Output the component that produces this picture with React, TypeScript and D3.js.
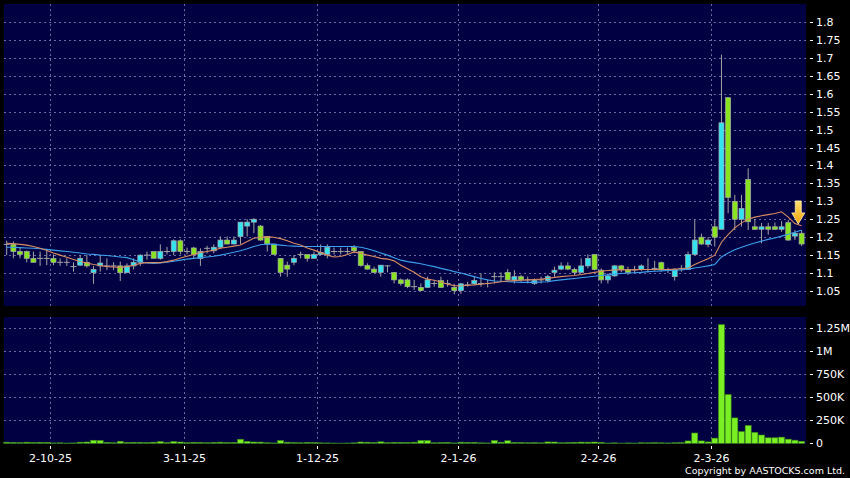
import { useEffect, useRef } from 'react';
import * as d3 from 'd3';

const W = 850;
const H = 478;

// daily candles, oldest first
const open = [
  1.18, 1.18, 1.16, 1.16, 1.141, 1.141, 1.141, 1.141, 1.13, 1.13,
  1.118, 1.122, 1.13, 1.101, 1.12, 1.12, 1.12, 1.12, 1.101, 1.12,
  1.13, 1.15, 1.16, 1.141, 1.16, 1.16, 1.19, 1.16, 1.17, 1.141,
  1.169, 1.162, 1.172, 1.192, 1.181, 1.202, 1.231, 1.242, 1.231, 1.202,
  1.181, 1.141, 1.122, 1.13, 1.152, 1.152, 1.141, 1.152, 1.152, 1.16,
  1.16, 1.16, 1.171, 1.16, 1.121, 1.111, 1.102, 1.12, 1.102, 1.081,
  1.081, 1.062, 1.06, 1.06, 1.071, 1.079, 1.071, 1.06, 1.051, 1.067,
  1.07, 1.071, 1.071, 1.09, 1.09, 1.102, 1.081, 1.09, 1.081, 1.071,
  1.081, 1.079, 1.102, 1.111, 1.12, 1.11, 1.102, 1.12, 1.152, 1.108,
  1.081, 1.092, 1.12, 1.11, 1.109, 1.11, 1.11, 1.113, 1.129, 1.109,
  1.09, 1.113, 1.11, 1.152, 1.2, 1.18, 1.229, 1.222, 1.589, 1.3,
  1.25, 1.361, 1.229, 1.222, 1.229, 1.229, 1.222, 1.2405, 1.203, 1.211,
];
const high = [
  1.19, 1.188, 1.171, 1.163, 1.16, 1.16, 1.165, 1.152, 1.141, 1.141,
  1.13, 1.15, 1.15, 1.12, 1.15, 1.141, 1.13, 1.132, 1.127, 1.141,
  1.152, 1.16, 1.16, 1.18, 1.173, 1.194, 1.194, 1.171, 1.173, 1.169,
  1.176, 1.18, 1.202, 1.202, 1.202, 1.242, 1.25, 1.253, 1.234, 1.202,
  1.181, 1.141, 1.132, 1.15, 1.16, 1.152, 1.16, 1.18, 1.18, 1.171,
  1.171, 1.171, 1.178, 1.16, 1.127, 1.118, 1.122, 1.122, 1.102, 1.085,
  1.085, 1.081, 1.071, 1.09, 1.081, 1.09, 1.081, 1.07, 1.072, 1.076,
  1.09, 1.099, 1.081, 1.102, 1.102, 1.111, 1.108, 1.095, 1.09, 1.085,
  1.09, 1.095, 1.118, 1.13, 1.13, 1.115, 1.141, 1.152, 1.152, 1.113,
  1.099, 1.122, 1.122, 1.118, 1.12, 1.124, 1.141, 1.134, 1.132, 1.115,
  1.113, 1.122, 1.16, 1.248, 1.21, 1.2, 1.248, 1.709, 1.589, 1.318,
  1.318, 1.392, 1.25, 1.24, 1.24, 1.241, 1.245, 1.248, 1.22, 1.22,
];
const low = [
  1.15, 1.141, 1.141, 1.13, 1.13, 1.12, 1.122, 1.122, 1.12, 1.12,
  1.104, 1.12, 1.115, 1.07, 1.104, 1.108, 1.108, 1.078, 1.101, 1.11,
  1.12, 1.137, 1.141, 1.137, 1.152, 1.15, 1.152, 1.152, 1.141, 1.12,
  1.155, 1.155, 1.168, 1.18, 1.18, 1.18, 1.202, 1.211, 1.19, 1.16,
  1.152, 1.09, 1.09, 1.122, 1.141, 1.132, 1.141, 1.15, 1.141, 1.152,
  1.152, 1.152, 1.155, 1.118, 1.11, 1.1, 1.09, 1.102, 1.071, 1.065,
  1.058, 1.053, 1.05, 1.06, 1.062, 1.06, 1.062, 1.041, 1.042, 1.062,
  1.067, 1.062, 1.06, 1.071, 1.076, 1.079, 1.071, 1.076, 1.071, 1.067,
  1.071, 1.074, 1.09, 1.108, 1.108, 1.095, 1.102, 1.113, 1.108, 1.071,
  1.071, 1.09, 1.102, 1.095, 1.1, 1.105, 1.102, 1.106, 1.104, 1.1,
  1.079, 1.104, 1.109, 1.15, 1.178, 1.172, 1.174, 1.222, 1.267, 1.22,
  1.23, 1.22, 1.22, 1.183, 1.207, 1.22, 1.215, 1.19, 1.192, 1.175,
];
const close = [
  1.18, 1.16, 1.152, 1.141, 1.13, 1.141, 1.141, 1.13, 1.13, 1.13,
  1.118, 1.141, 1.12, 1.11, 1.128, 1.12, 1.12, 1.101, 1.12, 1.13,
  1.15, 1.15, 1.141, 1.16, 1.16, 1.19, 1.16, 1.16, 1.152, 1.16,
  1.169, 1.172, 1.192, 1.181, 1.192, 1.242, 1.242, 1.25, 1.192, 1.181,
  1.152, 1.102, 1.111, 1.141, 1.152, 1.141, 1.152, 1.158, 1.172, 1.16,
  1.16, 1.16, 1.162, 1.121, 1.111, 1.102, 1.122, 1.12, 1.081, 1.071,
  1.062, 1.062, 1.051, 1.081, 1.071, 1.06, 1.071, 1.051, 1.07, 1.067,
  1.079, 1.071, 1.071, 1.09, 1.09, 1.081, 1.09, 1.081, 1.081, 1.079,
  1.081, 1.09, 1.108, 1.12, 1.111, 1.102, 1.12, 1.141, 1.11, 1.081,
  1.092, 1.12, 1.11, 1.102, 1.109, 1.12, 1.11, 1.113, 1.109, 1.109,
  1.11, 1.113, 1.152, 1.192, 1.181, 1.192, 1.2, 1.519, 1.311, 1.25,
  1.28, 1.243, 1.222, 1.229, 1.222, 1.222, 1.229, 1.192, 1.211, 1.181,
];
const volume = [
  12000, 10000, 8000, 12000, 9000, 11000, 10000, 4000, 5000, 3000,
  4000, 12000, 14000, 33000, 30000, 10000, 6000, 22000, 9000, 11000,
  10000, 8000, 12000, 18000, 8000, 19000, 14000, 7000, 11000, 9000,
  6000, 10000, 12000, 8000, 9000, 44000, 20000, 14000, 13000, 6000,
  4000, 30000, 12000, 8000, 6000, 10000, 9000, 5000, 4000, 3000,
  2000, 3000, 5000, 14000, 12000, 9000, 16000, 7000, 11000, 10000,
  9000, 12000, 30000, 30000, 6000, 8000, 10000, 4000, 12000, 10000,
  11000, 5000, 4000, 30000, 12000, 28000, 10000, 9000, 6000, 8000,
  5000, 15000, 14000, 6000, 8000, 11000, 13000, 12000, 14000, 10000,
  3000, 5000, 2000, 4000, 3000, 6000, 5000, 7000, 5000, 4000,
  6000, 8000, 26000, 112000, 26000, 15000, 56000, 1290000, 530000, 276000,
  127000, 194000, 119000, 90000, 60000, 60000, 67000, 45000, 34000, 22000,
];
// moving averages as drawn (orange short, blue long)
const maShort = [
  1.183, 1.182, 1.18, 1.178, 1.174, 1.169, 1.163, 1.156, 1.15, 1.144,
  1.138, 1.132, 1.128, 1.124, 1.121, 1.118, 1.117, 1.116, 1.118, 1.122,
  1.127, 1.129, 1.129, 1.129, 1.132, 1.136, 1.142, 1.147, 1.152, 1.157,
  1.16, 1.164, 1.169, 1.172, 1.175, 1.178, 1.188, 1.197, 1.2, 1.201,
  1.2, 1.196, 1.19, 1.183, 1.178, 1.17, 1.164, 1.157, 1.15, 1.145,
  1.146, 1.152, 1.159, 1.155, 1.15, 1.146, 1.141, 1.139, 1.134, 1.122,
  1.112, 1.102, 1.09, 1.083, 1.08, 1.075, 1.069, 1.065, 1.064, 1.066,
  1.067, 1.069, 1.071, 1.073, 1.076, 1.078, 1.079, 1.08, 1.081, 1.082,
  1.083, 1.085, 1.088, 1.09, 1.092, 1.093, 1.096, 1.099, 1.102, 1.105,
  1.107, 1.109, 1.109, 1.109, 1.109, 1.11, 1.11, 1.11, 1.11, 1.11,
  1.111, 1.112, 1.114, 1.124, 1.132, 1.14, 1.15, 1.186, 1.207, 1.226,
  1.24, 1.25, 1.256, 1.26, 1.263, 1.266, 1.271, 1.256, 1.238, 1.232,
];
const maLong = [
  1.172, 1.172, 1.171, 1.17, 1.169, 1.168, 1.166, 1.164, 1.162, 1.16,
  1.158, 1.156, 1.153, 1.152, 1.15, 1.149, 1.147, 1.145, 1.143, 1.137,
  1.131, 1.128, 1.127, 1.128, 1.13, 1.133, 1.136, 1.139, 1.141, 1.143,
  1.145, 1.147, 1.15, 1.154, 1.158, 1.162, 1.168, 1.174, 1.179, 1.181,
  1.18, 1.178, 1.176, 1.175, 1.174, 1.174, 1.174, 1.174, 1.174, 1.174,
  1.174, 1.174, 1.174, 1.172, 1.168, 1.162, 1.156, 1.15, 1.143, 1.136,
  1.132, 1.129, 1.126, 1.122, 1.118, 1.113, 1.109, 1.104, 1.1, 1.095,
  1.09, 1.085, 1.081, 1.078, 1.077, 1.076, 1.075, 1.074, 1.074, 1.074,
  1.075, 1.076, 1.079, 1.081, 1.083, 1.085, 1.087, 1.089, 1.091, 1.093,
  1.095, 1.097, 1.099, 1.1, 1.101, 1.102, 1.104, 1.105, 1.106, 1.107,
  1.108, 1.109, 1.111, 1.114, 1.117, 1.12, 1.124, 1.145, 1.156, 1.165,
  1.172, 1.178, 1.184, 1.189, 1.194, 1.198, 1.203, 1.208, 1.214, 1.22,
];

const priceTicks = [1.05, 1.1, 1.15, 1.2, 1.25, 1.3, 1.35, 1.4, 1.45, 1.5, 1.55, 1.6, 1.65, 1.7, 1.75, 1.8];
const volTicks = [0, 250000, 500000, 750000, 1000000, 1250000];
const volLabels = ['0', '250K', '500K', '750K', '1M', '1.25M'];
// first session of each month (index into the candles)
const monthLabels = ['2-10-25', '3-11-25', '1-12-25', '2-1-26', '2-2-26', '2-3-26'];
const monthIdx = [7, 27, 47, 68, 89, 106];
const arrowAt = { i: 118.5, price: 1.237 };

const NAVY = '#000042';
const GRID = '#6a6aa0';
const UP = '#33e4f0';
const DOWN = '#88e41e';
const FONT = '"DejaVu Sans", Verdana, sans-serif';

export default function App() {
  const ref = useRef<SVGSVGElement>(null);

  useEffect(() => {
    const svg = d3.select(ref.current);
    svg.selectAll('*').remove();

    const left = 4, right = 806;
    const pTop = 4, pBot = 306, vTop = 317, vBot = 444;
    const n = close.length;

    const x = d3.scaleLinear().domain([0, n - 1]).range([6.7, 6.7 + (n - 1) * 6.68]);
    const py = d3.scaleLinear().domain([1.05, 1.8]).range([291, 22]);
    const vy = d3.scaleLinear().domain([0, 1250000]).range([443.3, 328.3]);

    svg.append('rect').attr('width', W).attr('height', H).attr('fill', '#000');
    svg.append('rect').attr('x', left).attr('y', pTop).attr('width', right - left).attr('height', pBot - pTop).attr('fill', NAVY);
    svg.append('rect').attr('x', left).attr('y', vTop).attr('width', right - left).attr('height', vBot - vTop).attr('fill', NAVY);

    const grid = svg.append('g')
      .attr('stroke', GRID)
      .attr('stroke-width', 1)
      .attr('stroke-dasharray', '2,3')
      .attr('shape-rendering', 'crispEdges');

    grid.selectAll('.hp').data(priceTicks).enter().append('line')
      .attr('x1', left).attr('x2', right)
      .attr('y1', (d: number) => Math.round(py(d)) + 0.5)
      .attr('y2', (d: number) => Math.round(py(d)) + 0.5);
    grid.selectAll('.hv').data(volTicks.slice(1)).enter().append('line')
      .attr('x1', left).attr('x2', right)
      .attr('y1', (d: number) => Math.round(vy(d)) + 0.5)
      .attr('y2', (d: number) => Math.round(vy(d)) + 0.5);
    monthIdx.forEach((mi) => {
      const gx = Math.round(x(mi - 0.5)) + 0.5;
      grid.append('line').attr('x1', gx).attr('x2', gx).attr('y1', pTop).attr('y2', pBot);
      grid.append('line').attr('x1', gx).attr('x2', gx).attr('y1', vTop).attr('y2', vBot);
    });

    // volume bars
    svg.append('g').selectAll('rect').data(volume).enter().append('rect')
      .attr('x', (_d: number, i: number) => x(i) - 3)
      .attr('width', 6)
      .attr('y', (d: number) => vy(d))
      .attr('height', (d: number) => vy(0) - vy(d))
      .attr('fill', '#7af024')
      .attr('stroke', '#3d8a14')
      .attr('stroke-width', 0.6);

    // candles
    const candles = svg.append('g');
    for (let i = 0; i < n; i++) {
      const cx = x(i);
      candles.append('line')
        .attr('x1', cx).attr('x2', cx)
        .attr('y1', py(high[i])).attr('y2', py(low[i]))
        .attr('stroke', '#a4a4a4').attr('stroke-width', 1);
      if (Math.abs(open[i] - close[i]) < 0.003) {
        candles.append('line')
          .attr('x1', cx - 3).attr('x2', cx + 3)
          .attr('y1', py(close[i])).attr('y2', py(close[i]))
          .attr('stroke', '#a4a4a4').attr('stroke-width', 1);
      } else {
        const top = py(Math.max(open[i], close[i]));
        const bot = py(Math.min(open[i], close[i]));
        candles.append('rect')
          .attr('x', cx - 2.5).attr('width', 5)
          .attr('y', top).attr('height', Math.max(1, bot - top))
          .attr('fill', close[i] > open[i] ? UP : DOWN)
          .attr('stroke', '#a8a8a8').attr('stroke-width', 0.7);
      }
    }

    // moving averages
    const line = d3.line<number>().x((_d, i) => x(i)).y((d) => py(d));
    svg.append('path').datum(maLong).attr('d', line).attr('fill', 'none')
      .attr('stroke', '#3c9fec').attr('stroke-width', 1.1);
    svg.append('path').datum(maShort).attr('d', line).attr('fill', 'none')
      .attr('stroke', '#d88c62').attr('stroke-width', 1.1);

    // marker arrow
    const defs = svg.append('defs');
    const grad = defs.append('linearGradient').attr('id', 'arrowGrad')
      .attr('x1', 0).attr('x2', 0).attr('y1', 0).attr('y2', 1);
    grad.append('stop').attr('offset', '0%').attr('stop-color', '#ffe070');
    grad.append('stop').attr('offset', '100%').attr('stop-color', '#f2a208');
    const tx = x(arrowAt.i), ty = py(arrowAt.price);
    const ap = d3.path();
    ap.moveTo(tx - 3, ty - 23);
    ap.lineTo(tx + 3, ty - 23);
    ap.lineTo(tx + 3, ty - 11);
    ap.lineTo(tx + 6.5, ty - 11);
    ap.lineTo(tx, ty);
    ap.lineTo(tx - 6.5, ty - 11);
    ap.lineTo(tx - 3, ty - 11);
    ap.closePath();
    svg.append('path').attr('d', ap.toString())
      .attr('fill', 'url(#arrowGrad)').attr('stroke', '#fff0b0').attr('stroke-width', 0.8);

    // right axes
    const axis = svg.append('g').attr('font-family', FONT).attr('font-size', 11).attr('fill', '#fff');
    priceTicks.forEach((p) => {
      const yy = Math.round(py(p)) + 0.5;
      axis.append('line').attr('x1', 810).attr('x2', 813).attr('y1', yy).attr('y2', yy)
        .attr('stroke', '#fff').attr('stroke-width', 1);
      axis.append('text').attr('x', 816).attr('y', yy).attr('dy', '0.36em').text(String(p));
    });
    volTicks.forEach((v, k) => {
      const yy = Math.round(vy(v)) + 0.5;
      axis.append('line').attr('x1', 810).attr('x2', 813).attr('y1', yy).attr('y2', yy)
        .attr('stroke', '#fff').attr('stroke-width', 1);
      axis.append('text').attr('x', 816).attr('y', yy).attr('dy', '0.36em').text(volLabels[k]);
    });

    // date axis
    monthIdx.forEach((mi, k) => {
      const gx = Math.round(x(mi - 0.5)) + 0.5;
      axis.append('line').attr('x1', gx).attr('x2', gx).attr('y1', 446).attr('y2', 449)
        .attr('stroke', '#fff').attr('stroke-width', 1);
      axis.append('text').attr('x', gx).attr('y', 462).attr('text-anchor', 'middle').text(monthLabels[k]);
    });

    svg.append('text')
      .attr('x', 845).attr('y', 474)
      .attr('text-anchor', 'end')
      .attr('font-family', FONT).attr('font-size', 9.5).attr('fill', '#fff')
      .text('Copyright by AASTOCKS.com Ltd.');
  }, []);

  return (
    <svg
      ref={ref}
      width={W}
      height={H}
      style={{ position: 'absolute', left: 0, top: 0, display: 'block' }}
    />
  );
}
